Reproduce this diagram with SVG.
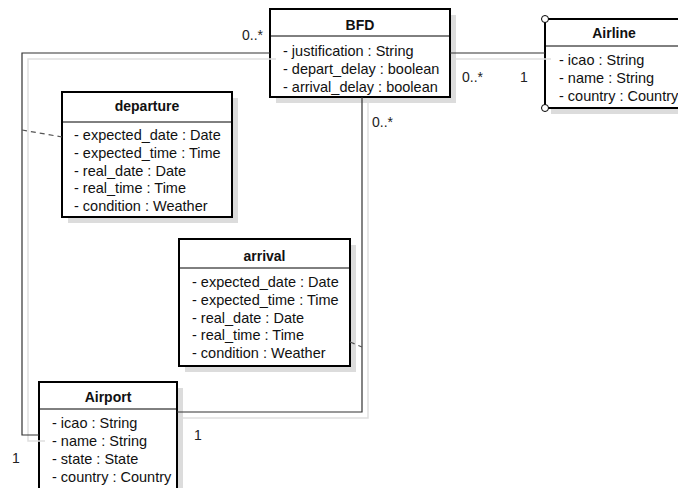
<svg xmlns="http://www.w3.org/2000/svg" width="678" height="488" viewBox="0 0 678 488">
<defs>
<style>
text{font-family:"Liberation Sans",Arial,sans-serif;font-size:14.5px;fill:#111}
.t{font-weight:bold;text-anchor:middle;font-size:14px}
.box{fill:#fff;stroke:#000;stroke-width:2}
.sh{fill:#dcdcdc}
.sep{stroke:#000;stroke-width:1}
.c{fill:none;stroke:#333;stroke-width:1.2}
.cs{fill:none;stroke:#e0e0e0;stroke-width:1.5}
.d{fill:none;stroke:#555;stroke-width:1.2;stroke-dasharray:5,4}
.lbl{fill:#222;font-size:14px}
</style>
</defs>
<rect width="678" height="488" fill="#fff"/>

<g id="BFD">
<rect class="sh" x="276" y="15" width="180" height="88"/>
<rect class="box" x="270" y="9" width="180" height="88"/>
<line class="sep" x1="270" y1="36" x2="450" y2="36"/>
<text class="t" x="360" y="30">BFD</text>
<text x="283" y="56">- justification : String</text>
<text x="283" y="74">- depart_delay : boolean</text>
<text x="283" y="92">- arrival_delay : boolean</text>
</g>

<g id="Airline">
<rect class="sh" x="551" y="25" width="140" height="89"/>
<rect class="box" x="545" y="19" width="140" height="89"/>
<line class="sep" x1="545" y1="46" x2="685" y2="46"/>
<text class="t" x="614" y="38">Airline</text>
<text x="559" y="65">- icao : String</text>
<text x="559" y="83">- name : String</text>
<text x="559" y="101">- country : Country</text>
<circle cx="545" cy="19" r="3.5" fill="#fff" stroke="#000" stroke-width="1"/>
<circle cx="545" cy="108" r="3.5" fill="#fff" stroke="#000" stroke-width="1"/>
</g>

<g id="departure">
<rect class="sh" x="68" y="98" width="170" height="125"/>
<rect class="box" x="62" y="92" width="170" height="125"/>
<line class="sep" x1="62" y1="122" x2="232" y2="122"/>
<text class="t" x="147" y="111">departure</text>
<text x="74" y="140">- expected_date : Date</text>
<text x="74" y="157.75">- expected_time : Time</text>
<text x="74" y="175.5">- real_date : Date</text>
<text x="74" y="193.25">- real_time : Time</text>
<text x="74" y="211">- condition : Weather</text>
</g>

<g id="arrival">
<rect class="sh" x="185" y="245" width="171" height="127"/>
<rect class="box" x="179" y="239" width="171" height="127"/>
<line class="sep" x1="179" y1="268" x2="350" y2="268"/>
<text class="t" x="264.5" y="261">arrival</text>
<text x="192" y="287">- expected_date : Date</text>
<text x="192" y="304.75">- expected_time : Time</text>
<text x="192" y="322.5">- real_date : Date</text>
<text x="192" y="340.25">- real_time : Time</text>
<text x="192" y="358">- condition : Weather</text>
</g>

<g id="Airport">
<rect class="sh" x="45" y="388" width="138" height="110"/>
<rect class="box" x="39" y="382" width="138" height="110"/>
<line class="sep" x1="39" y1="409" x2="177" y2="409"/>
<text class="t" x="108" y="402">Airport</text>
<text x="52" y="428">- icao : String</text>
<text x="52" y="446">- name : String</text>
<text x="52" y="464">- state : State</text>
<text x="52" y="482">- country : Country</text>
</g>

<g id="connectors">
<g transform="translate(6,6)">
<path class="cs" d="M450 53 H545"/>
<path class="cs" d="M270 53 H22 V435 H39"/>
<path class="cs" d="M362 97 V412 H177"/>
</g>
<path class="c" d="M450 53 H545"/>
<path class="c" d="M270 53 H22 V435 H39"/>
<path class="c" d="M362 97 V412 H177"/>
<path class="d" d="M22 130 L62 137"/>
<path class="d" d="M350 342 L362 347"/>
<text class="lbl" x="242" y="40">0..*</text>
<text class="lbl" x="462" y="82">0..*</text>
<text class="lbl" x="520" y="82">1</text>
<text class="lbl" x="372" y="127">0..*</text>
<text class="lbl" x="194" y="440">1</text>
<text class="lbl" x="12" y="463">1</text>
</g>
</svg>
